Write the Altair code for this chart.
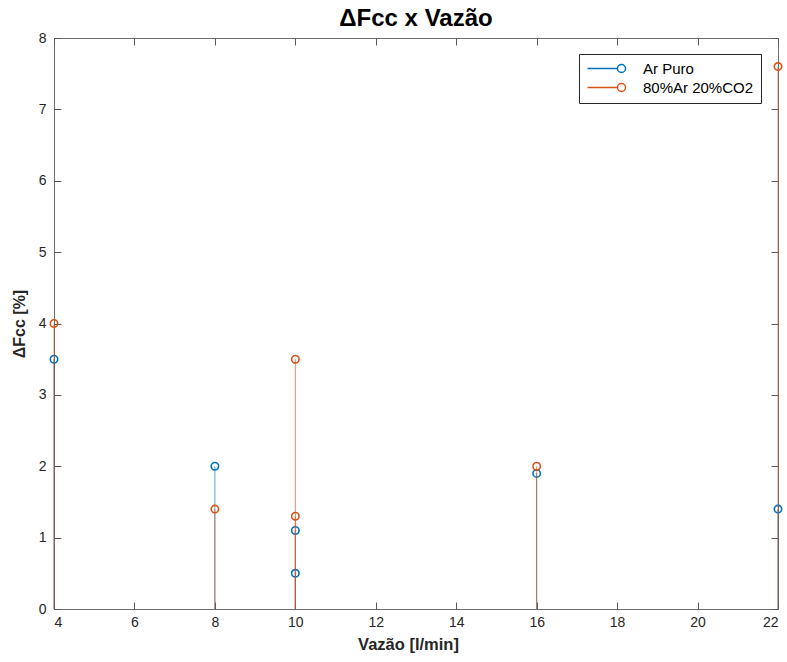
import altair as alt
import pandas as pd

# Data
series_names = ["Ar Puro", "80%Ar 20%CO2"]
vazao = [4, 8, 10, 10, 16, 22]
ar_puro = [3.5, 2.0, 1.1, 0.5, 1.9, 1.4]
ar_co2 = [4.0, 1.4, 3.5, 1.3, 2.0, 7.6]
colors = ["#0072BD", "#D95319"]
x_ticks = [4, 6, 8, 10, 12, 14, 16, 18, 20, 22]
y_ticks = [0, 1, 2, 3, 4, 5, 6, 7, 8]

df_a = pd.DataFrame({"x": vazao, "y": ar_puro, "serie": series_names[0]})
df_b = pd.DataFrame({"x": vazao, "y": ar_co2, "serie": series_names[1]})

W, H = 724, 571
FONT = "Liberation Sans"
AX = "#262626"
TICKC = "#5a5a5a"

xscale = alt.Scale(domain=[4, 22], nice=False, zero=False)
yscale = alt.Scale(domain=[0, 8], nice=False)
cscale = alt.Scale(domain=series_names, range=colors)

legend = alt.Legend(
    title=None, orient="none", legendX=525, legendY=16,
    symbolType="M-5.67,0L-0.67,0M0.67,0A0.67,0.67,0,1,1,-0.67,0A0.67,0.67,0,1,1,0.67,0",
    symbolSize=144, symbolStrokeWidth=1.5, symbolFillColor="transparent",
    symbolOffset=28,
    labelFont=FONT, labelFontSize=15, labelColor="#000000", labelOffset=14,
    strokeColor="#262626", fillColor="white", padding=7, rowPadding=3,
    labelLimit=300,
)

# axes: labels (outer side) and inward ticks built from mirrored axes
ax_x_labels = alt.Axis(values=x_ticks, ticks=False, domain=False, grid=False,
                       labelFont=FONT, labelFontSize=14, labelColor=AX, labelPadding=6,
                       title="Vazão [l/min]", titleFont=FONT, titleFontSize=16.5,
                       titleFontWeight="bold", titleColor=AX, titlePadding=7, titleX=354)
ax_y_labels = alt.Axis(values=y_ticks, ticks=False, domain=False, grid=False,
                       labelFont=FONT, labelFontSize=14, labelColor=AX, labelPadding=8,
                       title="ΔFcc [%]", titleFont=FONT, titleFontSize=16,
                       titleFontWeight="bold", titleColor=AX, titlePadding=11)
ax_x_bottom_in = alt.Axis(orient="top", offset=-H, values=x_ticks, labels=False, domain=False,
                          grid=False, ticks=True, tickSize=7, tickColor=TICKC, title=None)
ax_x_top_in = alt.Axis(orient="bottom", offset=-H, values=x_ticks, labels=False, domain=False,
                       grid=False, ticks=True, tickSize=7, tickColor=TICKC, title=None)
ax_y_left_in = alt.Axis(orient="right", offset=-W, values=y_ticks, labels=False, domain=False,
                        grid=False, ticks=True, tickSize=7, tickColor=TICKC, title=None)
ax_y_right_in = alt.Axis(orient="left", offset=-W, values=y_ticks, labels=False, domain=False,
                         grid=False, ticks=True, tickSize=7, tickColor=TICKC, title=None)


def stems(df, col, xa, ya):
    return alt.Chart(df).mark_rule(strokeWidth=1, opacity=0.65, color=col).encode(
        x=alt.X("x:Q", scale=xscale, axis=xa),
        y=alt.Y("y:Q", scale=yscale, axis=ya),
        y2=alt.datum(0),
    )


def markers(df, xa, ya):
    return alt.Chart(df).mark_point(shape="circle", filled=False, size=55, strokeWidth=1.6, opacity=1).encode(
        x=alt.X("x:Q", scale=xscale, axis=xa),
        y=alt.Y("y:Q", scale=yscale, axis=ya),
        color=alt.Color("serie:N", scale=cscale, legend=legend),
    )


chart = alt.layer(
    stems(df_a, colors[0], ax_x_labels, ax_y_labels),
    markers(df_a, ax_x_bottom_in, ax_y_left_in),
    stems(df_b, colors[1], ax_x_top_in, ax_y_right_in),
    markers(df_b, None, None),
).resolve_axis(x="independent", y="independent").properties(
    width=W, height=H,
    title=alt.TitleParams("ΔFcc x Vazão", font=FONT, fontSize=24, fontWeight="bold",
                          color="#000000", offset=0, anchor="middle"),
    padding={"left": 54, "top": 38, "right": 9, "bottom": 53},
    autosize=alt.AutoSizeParams(type="none"),
    background="white",
).configure_view(stroke="#6e6e6e", strokeWidth=1)

chart.save("out.html", embed_options={"renderer": "svg", "actions": False})
